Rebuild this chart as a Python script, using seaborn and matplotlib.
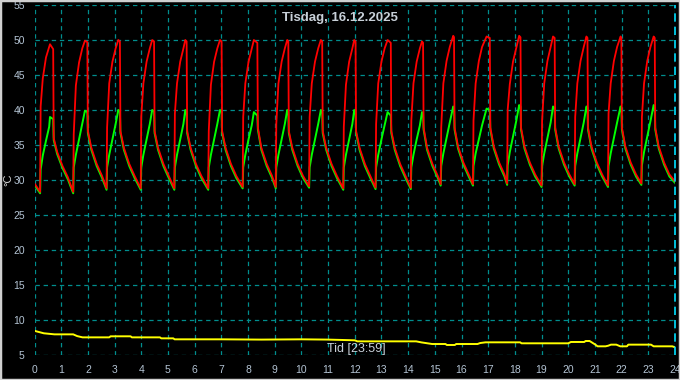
import matplotlib
matplotlib.use("Agg")
import matplotlib.pyplot as plt
import seaborn as sns
import pandas as pd
from matplotlib.ticker import MultipleLocator
from matplotlib.patches import Rectangle

# ---------------- data ----------------
title_text = "Tisdag, 16.12.2025"
xlabel_text = "Tid [23:59]"
ylabel_text = "°C"
x_ticks = list(range(0, 25))
y_ticks = list(range(5, 56, 5))

# time (hours) shared by the red (supply) and green (return) series
hours = [0.00,
    0.21, 0.23, 0.31, 0.43, 0.55, 0.58, 0.70, 0.72, 0.85, 1.05, 1.25,
    1.45, 1.47, 1.55, 1.67, 1.79, 1.89, 1.98, 2.00, 2.13, 2.33, 2.53,
    2.70, 2.72, 2.80, 2.92, 3.04, 3.14, 3.20, 3.22, 3.35, 3.55, 3.75,
    3.98, 4.00, 4.08, 4.20, 4.32, 4.41, 4.48, 4.50, 4.63, 4.83, 5.03,
    5.24, 5.26, 5.34, 5.46, 5.58, 5.65, 5.70, 5.72, 5.85, 6.05, 6.25,
    6.51, 6.53, 6.61, 6.73, 6.85, 6.95, 7.01, 7.03, 7.16, 7.36, 7.56,
    7.80, 7.82, 7.90, 8.02, 8.14, 8.22, 8.35, 8.37, 8.50, 8.70, 8.90,
    9.04, 9.06, 9.14, 9.26, 9.38, 9.47, 9.51, 9.53, 9.66, 9.86, 10.06,
    10.29, 10.31, 10.39, 10.51, 10.63, 10.73, 10.78, 10.80, 10.93, 11.13, 11.33,
    11.57, 11.59, 11.67, 11.79, 11.91, 11.98, 12.03, 12.05, 12.18, 12.38, 12.58,
    12.78, 12.80, 12.88, 13.00, 13.12, 13.23, 13.35, 13.37, 13.50, 13.70, 13.90,
    14.10, 14.12, 14.20, 14.32, 14.44, 14.52, 14.56, 14.58, 14.71, 14.91, 15.11,
    15.22, 15.24, 15.32, 15.44, 15.56, 15.69, 15.72, 15.74, 15.87, 16.07, 16.27,
    16.43, 16.45, 16.53, 16.65, 16.77, 16.94, 17.06, 17.08, 17.21, 17.41, 17.61,
    17.71, 17.73, 17.81, 17.93, 18.05, 18.16, 18.21, 18.23, 18.36, 18.56, 18.76,
    19.00, 19.02, 19.10, 19.22, 19.34, 19.43, 19.49, 19.51, 19.64, 19.84, 20.04,
    20.24, 20.26, 20.34, 20.46, 20.58, 20.68, 20.72, 20.74, 20.87, 21.07, 21.27,
    21.49, 21.51, 21.59, 21.71, 21.83, 21.96, 21.99, 22.01, 22.14, 22.34, 22.54,
    22.74, 22.76, 22.84, 22.96, 23.08, 23.20, 23.24, 23.26, 23.39, 23.59, 23.79,
    24.00]

red_temp = [29.5,
    28.3, 40.5, 44.5, 47.5, 49.0, 49.4, 48.7, 36.0, 34.0, 32.0, 30.4,
    28.3, 36.5, 43.5, 46.8, 48.8, 49.9, 49.7, 37.0, 34.6, 32.3, 30.6,
    28.8, 37.5, 43.8, 46.9, 48.8, 50.0, 49.8, 37.0, 34.6, 32.3, 30.6,
    28.8, 39.0, 43.8, 46.9, 48.8, 50.0, 49.8, 37.0, 34.6, 32.3, 30.6,
    28.8, 39.5, 43.8, 46.9, 48.8, 50.0, 49.8, 37.0, 34.6, 32.3, 30.6,
    28.8, 37.0, 43.6, 46.9, 48.8, 50.0, 49.8, 37.0, 34.6, 32.3, 30.6,
    29.0, 39.0, 43.8, 46.9, 48.8, 50.0, 49.6, 37.5, 34.6, 32.3, 30.6,
    29.0, 38.0, 43.8, 46.9, 48.8, 50.0, 49.8, 37.0, 34.6, 32.3, 30.6,
    29.1, 39.0, 43.8, 46.9, 48.8, 50.0, 49.8, 37.0, 34.6, 32.3, 30.6,
    28.8, 37.6, 43.6, 46.9, 48.8, 50.0, 49.8, 37.0, 34.6, 32.3, 30.6,
    28.9, 38.0, 43.8, 46.9, 48.8, 50.0, 49.6, 37.0, 34.6, 32.3, 30.6,
    28.9, 38.5, 43.8, 46.9, 48.8, 49.8, 49.6, 37.5, 34.6, 32.3, 30.6,
    29.4, 37.5, 43.8, 47.0, 49.0, 50.6, 50.4, 37.5, 34.8, 32.5, 30.8,
    29.4, 38.5, 43.8, 47.0, 49.0, 50.5, 50.3, 37.5, 34.8, 32.5, 30.8,
    29.5, 40.0, 43.7, 46.9, 48.8, 50.6, 50.4, 37.5, 34.8, 32.5, 30.8,
    29.2, 38.5, 43.8, 47.0, 49.0, 50.5, 50.3, 37.5, 34.8, 32.5, 30.8,
    29.4, 39.0, 43.8, 47.0, 49.0, 50.5, 50.3, 37.5, 34.8, 32.5, 30.8,
    29.2, 39.5, 43.8, 47.0, 49.0, 50.5, 50.3, 37.5, 34.8, 32.5, 30.8,
    29.5, 39.0, 43.8, 47.0, 49.0, 50.5, 50.3, 37.5, 34.8, 32.5, 30.8,
    29.8]

green_temp = [29.3,
    28.1, 31.5, 33.5, 35.6, 37.6, 39.0, 38.7, 35.7, 33.7, 31.7, 30.1,
    28.1, 31.8, 33.6, 35.8, 38.0, 39.9, 39.7, 36.7, 34.3, 32.0, 30.3,
    28.6, 31.8, 33.6, 35.8, 38.0, 40.0, 39.8, 36.7, 34.3, 32.0, 30.3,
    28.6, 31.8, 33.6, 35.8, 38.0, 40.0, 39.8, 36.7, 34.3, 32.0, 30.3,
    28.6, 31.8, 33.6, 35.8, 38.0, 40.0, 39.8, 36.7, 34.3, 32.0, 30.3,
    28.6, 31.8, 33.6, 35.8, 38.0, 40.0, 39.8, 36.7, 34.3, 32.0, 30.3,
    28.8, 31.8, 33.6, 35.8, 37.8, 39.7, 39.2, 37.2, 34.3, 32.0, 30.3,
    28.8, 31.8, 33.6, 35.8, 38.0, 40.0, 39.8, 36.7, 34.3, 32.0, 30.3,
    28.9, 31.8, 33.6, 35.8, 38.0, 40.0, 39.8, 36.7, 34.3, 32.0, 30.3,
    28.6, 31.8, 33.6, 35.8, 38.0, 40.0, 39.8, 36.7, 34.3, 32.0, 30.3,
    28.7, 31.8, 33.6, 35.8, 37.8, 39.7, 39.2, 36.7, 34.3, 32.0, 30.3,
    28.7, 31.8, 33.6, 35.8, 37.8, 39.7, 39.5, 37.2, 34.3, 32.0, 30.3,
    29.2, 32.0, 33.8, 36.0, 38.2, 40.5, 40.3, 37.2, 34.5, 32.2, 30.5,
    29.2, 32.0, 33.8, 35.8, 37.8, 40.2, 40.0, 37.2, 34.5, 32.2, 30.5,
    29.3, 32.1, 34.0, 36.2, 38.4, 40.7, 40.5, 37.2, 34.5, 32.2, 30.5,
    29.0, 32.0, 33.8, 36.0, 38.2, 40.5, 40.3, 37.2, 34.5, 32.2, 30.5,
    29.2, 32.0, 33.8, 36.0, 38.2, 40.5, 40.3, 37.2, 34.5, 32.2, 30.5,
    29.0, 32.0, 33.8, 36.0, 38.2, 40.5, 40.3, 37.2, 34.5, 32.2, 30.5,
    29.3, 32.1, 34.0, 36.2, 38.4, 40.7, 40.5, 37.2, 34.5, 32.2, 30.5,
    29.6]

# outdoor temperature (yellow)
out_hours = [0.0, 0.15, 0.35, 0.75, 1.45, 1.6, 1.8, 2.8, 2.85, 3.6, 3.65, 4.7,
             4.75, 5.2, 5.25, 7.0, 8.5, 10.0, 11.0, 12.0, 12.1, 14.3, 14.5,
             14.9, 15.4, 15.45, 15.75, 15.8, 16.6, 16.7, 16.9, 18.2, 18.25,
             20.0, 20.1, 20.6, 20.65, 20.8, 21.0, 21.1, 21.4, 21.5, 21.6,
             21.8, 21.95, 22.2, 22.25, 23.1, 23.2, 23.9, 24.0]
out_temp = [8.45, 8.3, 8.1, 7.95, 7.95, 7.7, 7.52, 7.52, 7.67, 7.67, 7.52, 7.52,
            7.38, 7.38, 7.24, 7.24, 7.2, 7.24, 7.2, 7.1, 6.95, 6.95, 6.8,
            6.57, 6.57, 6.43, 6.43, 6.57, 6.57, 6.71, 6.81, 6.81, 6.67,
            6.67, 6.86, 6.86, 7.0, 7.0, 6.52, 6.24, 6.24, 6.33, 6.48,
            6.48, 6.24, 6.24, 6.48, 6.48, 6.24, 6.24, 6.1]

# ---------------- styling ----------------
sns.set_style("dark")
plt.rcParams["font.family"] = ["Liberation Sans", "DejaVu Sans"]

W, H = 680, 380
fig = plt.figure(figsize=(W / 100, H / 100), dpi=100, facecolor="black")
ax = fig.add_axes([34.5 / W, 1 - 355 / H, (675 - 34.5) / W, 350 / H])
ax.set_facecolor("black")

grid_col = "#008e8e"
ax.set_xlim(0, 24)
ax.set_ylim(5, 55)
ax.set_xticks(x_ticks)
ax.set_yticks(y_ticks)
ax.xaxis.set_minor_locator(MultipleLocator(1 / 6))
ax.yaxis.set_minor_locator(MultipleLocator(1))
ax.grid(True, which="major", color=grid_col, linestyle=(0, (3.5, 3)), linewidth=0.9)
ax.grid(False, which="minor")
ax.set_axisbelow(True)
for s in ax.spines.values():
    s.set_visible(False)

lab_col = "#b4c4d4"
ax.tick_params(axis="y", which="major", direction="out", length=6.5, width=1,
               color="white", labelcolor=lab_col, labelsize=7.5, pad=0.5)
ax.tick_params(axis="y", which="minor", direction="out", length=3.2, width=1,
               color="white")
ax.tick_params(axis="x", which="major", direction="out", length=4, width=1,
               color="white", labelcolor=lab_col, labelsize=7.5, pad=3)
ax.tick_params(axis="x", which="minor", direction="out", length=2.5, width=1,
               color="white")

df_main = pd.DataFrame({"hour": hours, "red": red_temp, "green": green_temp})
df_out = pd.DataFrame({"hour": out_hours, "temp": out_temp})

sns.lineplot(data=df_main, x="hour", y="green", ax=ax, color="#00ff00",
             linewidth=1.4, estimator=None, sort=False, zorder=2)
sns.lineplot(data=df_main, x="hour", y="red", ax=ax, color="#ff0000",
             linewidth=1.3, estimator=None, sort=False, zorder=3)
sns.lineplot(data=df_out, x="hour", y="temp", ax=ax, color="#ffff00",
             linewidth=1.4, estimator=None, sort=False, zorder=3)

# current-time marker at right edge
ax.axvline(24, color="#00e0ff", linestyle=(0, (5, 3)), linewidth=1.2,
           clip_on=False, zorder=4)

ax.set_xlabel("")
ax.set_ylabel("")
fig.text(8 / W, 1 - 180 / H, ylabel_text, rotation=90, color="#d8d8d8",
         fontsize=8, ha="center", va="center")
fig.text(340 / W, 1 - 18 / H, title_text, color="#c8d0d8", fontsize=9.5,
         fontweight="bold", ha="center", va="center")
ax.text(12.05, 5.9, xlabel_text, color="#c8d0d8", fontsize=9,
        ha="center", va="center", zorder=5)

fig.patches.append(Rectangle((0, 0), 1, 1, transform=fig.transFigure,
                             fill=False, edgecolor="#d0d0d0", linewidth=2.5))

fig.savefig("out.png", dpi=100, facecolor="black")
